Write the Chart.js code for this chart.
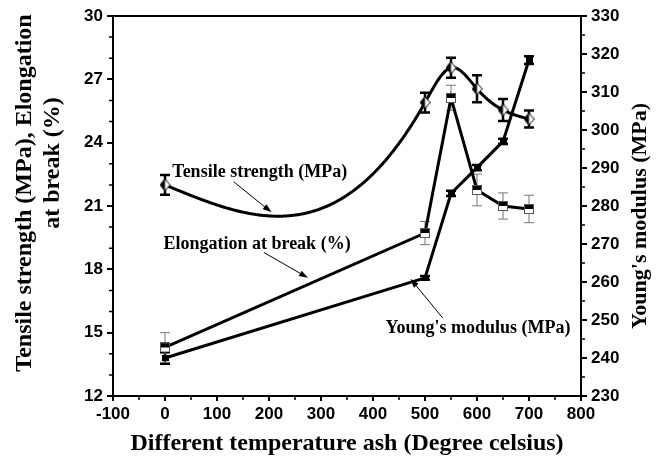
<!DOCTYPE html>
<html>
<head>
<meta charset="utf-8">
<script src="https://cdn.jsdelivr.net/npm/chart.js@4.4.0/dist/chart.umd.min.js"></script>
<style>
  html, body { margin: 0; padding: 0; background: #fff; }
</style>
</head>
<body>
<canvas id="chart" width="665" height="462"></canvas>
<script>
// temperatures (degree celsius)
const temps = [0, 500, 550, 600, 650, 700];

// tensile strength (MPa), left axis
const tensile = [22.0, 25.9, 27.55, 26.55, 25.55, 25.12];
const tensileErr = [0.47, 0.47, 0.47, 0.64, 0.52, 0.4];

// elongation at break (%), left axis
const elongation = [14.3, 19.72, 26.12, 21.76, 21.0, 20.86];
const elongationErr = [0.7, 0.55, 0.6, 0.75, 0.62, 0.65];

// young's modulus (MPa), right axis
const modulus = [240.0, 261.1, 283.3, 290.1, 297.0, 318.4];
const modulusErr = [1.5, 0.5, 0.7, 0.7, 0.7, 1.0];

// tick labels
const xTicks = [-100, 0, 100, 200, 300, 400, 500, 600, 700, 800];
const leftTicks = [12, 15, 18, 21, 24, 27, 30];
const rightTicks = [230, 240, 250, 260, 270, 280, 290, 300, 310, 320, 330];

// annotation labels, placed in data units (x, left axis)
const notes = [
    { text: 'Tensile strength (MPa)', x: 14, y: 22.6, from: [132, 22.15], to: [205, 20.7] },
    { text: 'Elongation at break (%)', x: -3, y: 19.2, from: [190, 18.8], to: [275, 17.6] },
    { text: "Young's modulus (MPa)", x: 424, y: 15.2, from: [534, 15.7], to: [472, 17.55] }
];

const tickFont = { family: 'Liberation Sans', size: 17, weight: 'bold' };
const noteFont = 'bold 18px "Liberation Serif"';

// marker images
function makeMarker(w, h, draw) {
    const c = document.createElement('canvas');
    c.width = w;
    c.height = h;
    draw(c.getContext('2d'), w, h);
    return c;
}

const diamond = makeMarker(11, 13, (g, w, h) => {
    g.fillStyle = '#fff';
    g.beginPath();
    g.moveTo(w / 2, 0.5); g.lineTo(w - 0.5, h / 2); g.lineTo(w / 2, h - 0.5); g.lineTo(0.5, h / 2);
    g.closePath();
    g.fill();
    g.fillStyle = '#000';
    g.beginPath();
    g.moveTo(w / 2, 0.5); g.lineTo(w / 2, h - 0.5); g.lineTo(0.5, h / 2);
    g.closePath();
    g.fill();
    g.strokeStyle = '#000';
    g.lineWidth = 1;
    g.beginPath();
    g.moveTo(w / 2, 0.5); g.lineTo(w - 0.5, h / 2); g.lineTo(w / 2, h - 0.5); g.lineTo(0.5, h / 2);
    g.closePath();
    g.stroke();
});

const square = makeMarker(10, 10, (g, w, h) => {
    g.fillStyle = '#fff';
    g.fillRect(0, 0, w, h);
    g.fillStyle = '#000';
    g.fillRect(0, 0, w, h / 2);
    g.strokeStyle = '#555';
    g.lineWidth = 1;
    g.strokeRect(0.5, 0.5, w - 1, h - 1);
});

const dot = makeMarker(7, 6, (g, w, h) => {
    g.fillStyle = '#000';
    g.fillRect(0, 0, w, h);
});

// natural cubic spline, like the original plotting program
function naturalSpline(xs, ys) {
    const n = xs.length;
    const h = [], s = [];
    for (let i = 0; i < n - 1; i++) {
        h.push(xs[i + 1] - xs[i]);
        s.push((ys[i + 1] - ys[i]) / h[i]);
    }
    const a = [], b = [], c = [], d = [];
    for (let i = 1; i < n - 1; i++) {
        a.push(h[i - 1]);
        b.push(2 * (h[i - 1] + h[i]));
        c.push(h[i]);
        d.push(6 * (s[i] - s[i - 1]));
    }
    const k = b.length;
    for (let i = 1; i < k; i++) {
        const w = a[i] / b[i - 1];
        b[i] -= w * c[i - 1];
        d[i] -= w * d[i - 1];
    }
    const sol = new Array(k);
    sol[k - 1] = d[k - 1] / b[k - 1];
    for (let i = k - 2; i >= 0; i--) sol[i] = (d[i] - c[i] * sol[i + 1]) / b[i];
    const m = [0, ...sol, 0];
    return function (x) {
        let i = 0;
        while (i < n - 2 && x > xs[i + 1]) i++;
        const t1 = xs[i + 1] - x, t0 = x - xs[i];
        return m[i] * t1 * t1 * t1 / (6 * h[i]) + m[i + 1] * t0 * t0 * t0 / (6 * h[i]) +
            (ys[i] / h[i] - m[i] * h[i] / 6) * t1 + (ys[i + 1] / h[i] - m[i + 1] * h[i] / 6) * t0;
    };
}

const tensileCurve = naturalSpline(temps, tensile);

// error bars, spline line, minor ticks, titles and labels
const extras = {
    id: 'extras',
    beforeDatasetsDraw(chart) {
        const g = chart.ctx;
        const x = chart.scales.x, y = chart.scales.y, y2 = chart.scales.y2;
        g.save();

        // tensile spline
        g.strokeStyle = '#000';
        g.lineWidth = 3;
        g.lineJoin = 'round';
        g.beginPath();
        for (let t = temps[0]; t <= temps[temps.length - 1]; t += 2) {
            const px = x.getPixelForValue(t), py = y.getPixelForValue(tensileCurve(t));
            if (t === temps[0]) g.moveTo(px, py); else g.lineTo(px, py);
        }
        g.stroke();

        // error bars
        const bars = [
            { vals: tensile, errs: tensileErr, scale: y, color: '#000', width: 2.5 },
            { vals: modulus, errs: modulusErr, scale: y2, color: '#000', width: 2.5 },
            { vals: elongation, errs: elongationErr, scale: y, color: '#777', width: 1 }
        ];
        bars.forEach(b => {
            g.strokeStyle = b.color;
            g.lineWidth = b.width;
            temps.forEach((t, i) => {
                const px = x.getPixelForValue(t);
                const top = b.scale.getPixelForValue(b.vals[i] + b.errs[i]);
                const bot = b.scale.getPixelForValue(b.vals[i] - b.errs[i]);
                g.beginPath();
                g.moveTo(px, top); g.lineTo(px, bot);
                g.moveTo(px - 5, top); g.lineTo(px + 5, top);
                g.moveTo(px - 5, bot); g.lineTo(px + 5, bot);
                g.stroke();
            });
        });
        g.restore();
    },
    afterDraw(chart) {
        const g = chart.ctx;
        const area = chart.chartArea;
        const x = chart.scales.x, y = chart.scales.y, y2 = chart.scales.y2;
        g.save();
        g.strokeStyle = '#000';
        g.fillStyle = '#000';

        // top frame line
        g.lineWidth = 2;
        g.beginPath();
        g.moveTo(area.left, area.top);
        g.lineTo(area.right, area.top);
        g.stroke();

        // minor ticks
        g.lineWidth = 1.5;
        g.beginPath();
        for (let v = 12; v < 30; v++) {
            if (v % 3 === 0) continue;
            const py = y.getPixelForValue(v);
            g.moveTo(area.left - 4, py); g.lineTo(area.left, py);
        }
        for (let v = 235; v < 330; v += 10) {
            const py = y2.getPixelForValue(v);
            g.moveTo(area.right, py); g.lineTo(area.right + 4, py);
        }
        for (let v = -50; v < 800; v += 100) {
            const px = x.getPixelForValue(v);
            g.moveTo(px, area.bottom); g.lineTo(px, area.bottom + 4);
        }
        g.stroke();

        // axis titles
        g.textAlign = 'center';
        g.textBaseline = 'middle';
        g.font = 'bold 24px "Liberation Serif"';
        g.fillText('Different temperature ash (Degree celsius)', (area.left + area.right) / 2, 444);

        g.save();
        g.translate(25, 193);
        g.rotate(-Math.PI / 2);
        g.fillText('Tensile strength (MPa), Elongation', 0, 0);
        g.restore();

        g.save();
        g.translate(53, 163);
        g.rotate(-Math.PI / 2);
        g.fillText('at break (%)', 0, 0);
        g.restore();

        g.font = 'bold 22px "Liberation Serif"';
        g.save();
        g.translate(640, 216);
        g.rotate(-Math.PI / 2);
        g.fillText("Young's modulus (MPa)", 0, 0);
        g.restore();

        // annotations with arrows
        g.font = noteFont;
        g.textAlign = 'left';
        notes.forEach(n => {
            g.fillText(n.text, x.getPixelForValue(n.x), y.getPixelForValue(n.y));
            const x0 = x.getPixelForValue(n.from[0]), y0 = y.getPixelForValue(n.from[1]);
            const x1 = x.getPixelForValue(n.to[0]), y1 = y.getPixelForValue(n.to[1]);
            const ang = Math.atan2(y1 - y0, x1 - x0);
            g.lineWidth = 1;
            g.beginPath();
            g.moveTo(x0, y0);
            g.lineTo(x1 - 6 * Math.cos(ang), y1 - 6 * Math.sin(ang));
            g.stroke();
            g.beginPath();
            g.moveTo(x1, y1);
            g.lineTo(x1 - 9 * Math.cos(ang) + 3 * Math.sin(ang), y1 - 9 * Math.sin(ang) - 3 * Math.cos(ang));
            g.lineTo(x1 - 9 * Math.cos(ang) - 3 * Math.sin(ang), y1 - 9 * Math.sin(ang) + 3 * Math.cos(ang));
            g.closePath();
            g.fill();
        });
        g.restore();
    }
};

function axisGrid(len) {
    return { display: true, drawOnChartArea: false, drawTicks: true, tickLength: len, color: '#000', lineWidth: 2 };
}

const ctx = document.getElementById('chart').getContext('2d');
new Chart(ctx, {
    type: 'scatter',
    data: {
        datasets: [{
            label: 'Tensile strength (MPa)',
            data: temps.map((t, i) => ({ x: t, y: tensile[i] })),
            yAxisID: 'y',
            showLine: false,
            pointStyle: diamond
        }, {
            label: 'Elongation at break (%)',
            data: temps.map((t, i) => ({ x: t, y: elongation[i] })),
            yAxisID: 'y',
            showLine: true,
            borderColor: '#000',
            borderWidth: 3,
            pointStyle: square
        }, {
            label: "Young's modulus (MPa)",
            data: temps.map((t, i) => ({ x: t, y: modulus[i] })),
            yAxisID: 'y2',
            showLine: true,
            borderColor: '#000',
            borderWidth: 3,
            pointStyle: dot
        }]
    },
    options: {
        responsive: false,
        animation: false,
        layout: { padding: { top: 16, left: 0, right: 0, bottom: 0 } },
        plugins: {
            legend: { display: false },
            tooltip: { enabled: false }
        },
        scales: {
            x: {
                type: 'linear',
                position: 'bottom',
                min: -100,
                max: 800,
                border: { display: true, color: '#000', width: 2 },
                grid: axisGrid(5),
                ticks: { color: '#000', font: tickFont, padding: 3, maxRotation: 0, autoSkip: false },
                afterBuildTicks: s => { s.ticks = xTicks.map(v => ({ value: v })); },
                afterFit: s => { s.height = 66; }
            },
            y: {
                type: 'linear',
                position: 'left',
                min: 12,
                max: 30,
                border: { display: true, color: '#000', width: 2 },
                grid: axisGrid(6),
                ticks: { color: '#000', font: tickFont, padding: 4, autoSkip: false },
                afterBuildTicks: s => { s.ticks = leftTicks.map(v => ({ value: v })); },
                afterFit: s => { s.width = 113; }
            },
            y2: {
                type: 'linear',
                position: 'right',
                min: 230,
                max: 330,
                border: { display: true, color: '#000', width: 2 },
                grid: axisGrid(6),
                ticks: { color: '#000', font: tickFont, padding: 4, autoSkip: false },
                afterBuildTicks: s => { s.ticks = rightTicks.map(v => ({ value: v })); },
                afterFit: s => { s.width = 84; }
            }
        }
    },
    plugins: [extras]
});
</script>
</body>
</html>
